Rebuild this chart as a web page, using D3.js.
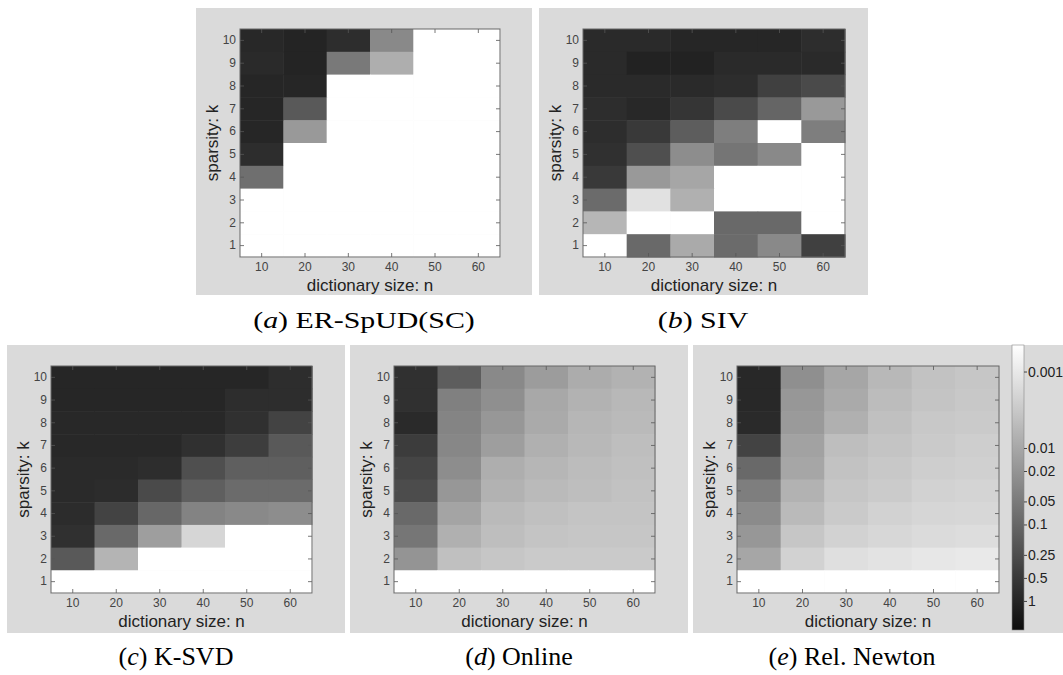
<!DOCTYPE html>
<html>
<head>
<meta charset="utf-8">
<script src="https://cdn.jsdelivr.net/npm/d3@7"></script>
<style>
  body { margin: 0; background: #ffffff; }
  svg { display: block; }
</style>
</head>
<body>
<script>
// grid axes
const nValues = [10, 20, 30, 40, 50, 60];
const kValues = [10, 9, 8, 7, 6, 5, 4, 3, 2, 1];

// recovery error per cell, rows are k = 10 ... 1, columns n = 10 ... 60 (0 = exact)
const erSpud = [
  [0.93, 1.05, 0.76, 0.030, 0, 0],
  [0.85, 1.05, 0.053, 0.008, 0, 0],
  [1.0, 1.0, 0, 0, 0, 0],
  [1.0, 0.16, 0, 0, 0, 0],
  [1.0, 0.017, 0, 0, 0, 0],
  [0.76, 0, 0, 0, 0, 0],
  [0.075, 0, 0, 0, 0, 0],
  [0, 0, 0, 0, 0, 0],
  [0, 0, 0, 0, 0, 0],
  [0, 0, 0, 0, 0, 0]
];
const siv = [
  [0.87, 0.87, 1.0, 1.0, 1.0, 0.76],
  [0.87, 1.15, 1.15, 0.87, 0.87, 0.87],
  [0.87, 0.87, 0.87, 0.76, 0.40, 0.28],
  [0.76, 0.93, 0.59, 0.28, 0.106, 0.017],
  [0.76, 0.50, 0.14, 0.043, 0, 0.043],
  [0.70, 0.23, 0.026, 0.061, 0.030, 0],
  [0.50, 0.017, 0.0105, 0, 0, 0],
  [0.086, 0.0013, 0.0074, 0, 0, 0],
  [0.006, 0, 0, 0.092, 0.092, 0],
  [0, 0.092, 0.0092, 0.086, 0.030, 0.40]
];
const ksvd = [
  [1.0, 1.0, 1.0, 1.0, 1.0, 0.76],
  [1.0, 1.0, 1.0, 1.0, 0.76, 0.76],
  [0.93, 0.93, 0.93, 0.93, 0.70, 0.35],
  [0.93, 0.93, 0.93, 0.70, 0.43, 0.16],
  [0.87, 0.87, 0.76, 0.23, 0.13, 0.13],
  [0.87, 0.81, 0.28, 0.13, 0.086, 0.086],
  [0.81, 0.35, 0.099, 0.037, 0.030, 0.026],
  [0.70, 0.092, 0.014, 0.00196, 0, 0],
  [0.16, 0.0064, 0, 0, 0, 0],
  [0, 0, 0, 0, 0, 0]
];
const online = [
  [0.70, 0.14, 0.030, 0.015, 0.0085, 0.0069],
  [0.70, 0.040, 0.024, 0.0098, 0.0069, 0.0056],
  [0.87, 0.035, 0.018, 0.0092, 0.006, 0.0052],
  [0.46, 0.032, 0.014, 0.0074, 0.0056, 0.0045],
  [0.33, 0.026, 0.008, 0.006, 0.0049, 0.0042],
  [0.26, 0.018, 0.0069, 0.0052, 0.0045, 0.0039],
  [0.092, 0.0113, 0.0052, 0.0042, 0.0037, 0.0037],
  [0.057, 0.0074, 0.0045, 0.0037, 0.0034, 0.0034],
  [0.020, 0.0042, 0.0034, 0.003, 0.003, 0.003],
  [0, 0, 0, 0, 0, 0]
];
const relNewton = [
  [0.93, 0.024, 0.0105, 0.0056, 0.0039, 0.0034],
  [0.93, 0.018, 0.0092, 0.0049, 0.0037, 0.0032],
  [0.87, 0.016, 0.0074, 0.0042, 0.0032, 0.003],
  [0.35, 0.012, 0.0045, 0.0037, 0.003, 0.0026],
  [0.092, 0.0105, 0.0039, 0.0032, 0.0026, 0.0024],
  [0.043, 0.0069, 0.0034, 0.0028, 0.00225, 0.0021],
  [0.028, 0.0052, 0.003, 0.00225, 0.00196, 0.00183],
  [0.018, 0.0034, 0.00225, 0.00183, 0.00159, 0.00148],
  [0.0105, 0.00225, 0.00138, 0.0012, 0.00104, 0.00097],
  [0, 0, 0, 0, 0, 0]
];

const colorTicks = [0.001, 0.01, 0.02, 0.05, 0.1, 0.25, 0.5, 1];
const panelLetters = ['a', 'b', 'c', 'd', 'e'];
const panelNames = ['ER-SpUD(SC)', 'SIV', 'K-SVD', 'Online', 'Rel. Newton'];
const panelData = [erSpud, siv, ksvd, online, relNewton];

// layout (frame = grey background, plot = axes box), in page pixels
const layout = [
  { frame: [196, 8, 336, 287], plot: [240, 29, 260, 228], caption: [364, 328], row: 0 },
  { frame: [539, 8, 329, 287], plot: [583, 29, 262, 228], caption: [703, 328], row: 0 },
  { frame: [7, 345, 338, 288], plot: [51, 366, 261, 227], caption: [176, 665], row: 1 },
  { frame: [350, 345, 338, 288], plot: [394, 366, 261, 227], caption: [519, 665], row: 1 },
  { frame: [693, 345, 370, 288], plot: [737, 366, 262, 227], caption: [852, 665], row: 1 }
];
const colorbarBox = [1012, 345, 12, 285];

const width = 1063;
const height = 675;

const svg = d3.select('body').append('svg')
  .attr('width', width)
  .attr('height', height)
  .style('font-family', '"Liberation Sans", Arial, sans-serif');

svg.append('rect').attr('width', width).attr('height', height).attr('fill', '#ffffff');

// log grey colormap shared by the cells and the colorbar
const logDomain = [0.00045, 2.4];
const color = d3.scaleLog().domain(logDomain).range(['#ffffff', '#0d0d0d']).clamp(true);
const fillFor = (v) => (v > 0 ? color(v) : '#ffffff');

const defs = svg.append('defs');

panelData.forEach((rows, p) => {
  const L = layout[p];
  const [fx, fy, fw, fh] = L.frame;
  const [px, py, pw, ph] = L.plot;

  // grey figure background
  svg.append('rect')
    .attr('x', fx).attr('y', fy)
    .attr('width', fw).attr('height', fh)
    .attr('fill', '#dadada');

  const g = svg.append('g').attr('transform', `translate(${px},${py})`);

  const x = d3.scaleBand().domain(nValues).range([0, pw]);
  const y = d3.scaleBand().domain(kValues).range([0, ph]);

  const cells = rows.flatMap((row, i) => row.map((v, j) => ({ k: kValues[i], n: nValues[j], v })));

  g.selectAll('rect.cell')
    .data(cells)
    .join('rect')
    .attr('class', 'cell')
    .attr('x', (d) => x(d.n))
    .attr('y', (d) => y(d.k))
    .attr('width', x.bandwidth() + 0.5)
    .attr('height', y.bandwidth() + 0.5)
    .attr('fill', (d) => fillFor(d.v));

  // MATLAB-like inward ticks on all four sides
  const styleAxis = (sel) => {
    sel.select('.domain').remove();
    sel.selectAll('line').attr('stroke', '#555').attr('stroke-width', 0.8);
    sel.selectAll('text').attr('fill', '#444').style('font-size', '12px');
  };

  g.append('g')
    .attr('transform', `translate(0,${ph})`)
    .call(d3.axisBottom(x).tickSizeInner(-4).tickSizeOuter(0).tickPadding(5))
    .call(styleAxis);
  g.append('g')
    .call(d3.axisTop(x).tickSizeInner(-4).tickSizeOuter(0).tickFormat(''))
    .call(styleAxis);
  g.append('g')
    .call(d3.axisLeft(y).tickSizeInner(-4).tickSizeOuter(0).tickPadding(4))
    .call(styleAxis);
  g.append('g')
    .attr('transform', `translate(${pw},0)`)
    .call(d3.axisRight(y).tickSizeInner(-4).tickSizeOuter(0).tickFormat(''))
    .call(styleAxis);

  g.append('rect')
    .attr('width', pw).attr('height', ph)
    .attr('fill', 'none')
    .attr('stroke', '#666')
    .attr('stroke-width', 1);

  // axis titles
  g.append('text')
    .attr('x', pw / 2)
    .attr('y', ph + 34)
    .attr('text-anchor', 'middle')
    .attr('fill', '#222')
    .style('font-size', '17px')
    .text('dictionary size: n');

  g.append('text')
    .attr('transform', `translate(-22,${ph / 2}) rotate(-90)`)
    .attr('text-anchor', 'middle')
    .attr('fill', '#222')
    .style('font-size', '17px')
    .text('sparsity: k');

  // caption (top-row captions are stretched wider in the source figure)
  const sx = L.row === 0 ? 1.3 : 1.0;
  const cap = svg.append('text')
    .attr('text-anchor', 'middle')
    .attr('transform', `translate(${L.caption[0]},${L.caption[1]}) scale(${sx},1)`)
    .attr('fill', '#000')
    .style('font-family', '"Liberation Serif", "Times New Roman", serif')
    .style('font-size', L.row === 0 ? '23px' : '26px');
  cap.append('tspan').text('(');
  cap.append('tspan').style('font-style', 'italic').text(panelLetters[p]);
  cap.append('tspan').text(') ' + panelNames[p]);
});

// colorbar
const [cbx, cby, cbw, cbh] = colorbarBox;
const cbScale = d3.scaleLog().domain(logDomain).range([cby, cby + cbh]);

const grad = defs.append('linearGradient')
  .attr('id', 'cbgrad')
  .attr('x1', 0).attr('y1', 0).attr('x2', 0).attr('y2', 1);
grad.selectAll('stop')
  .data(d3.range(0, 1.0001, 0.05))
  .join('stop')
  .attr('offset', (t) => t)
  .attr('stop-color', (t) => color(cbScale.invert(cby + t * cbh)));

svg.append('rect')
  .attr('x', cbx).attr('y', cby)
  .attr('width', cbw).attr('height', cbh)
  .attr('fill', 'url(#cbgrad)')
  .attr('stroke', '#888')
  .attr('stroke-width', 0.6);

const cbAxis = svg.append('g')
  .attr('transform', `translate(${cbx + cbw},0)`)
  .call(d3.axisRight(cbScale).tickValues(colorTicks).tickFormat((d) => String(d)).tickSizeInner(3).tickSizeOuter(0).tickPadding(1));
cbAxis.select('.domain').remove();
cbAxis.selectAll('line').attr('stroke', '#444');
cbAxis.selectAll('text').attr('fill', '#222').style('font-size', '14px');
</script>
</body>
</html>
